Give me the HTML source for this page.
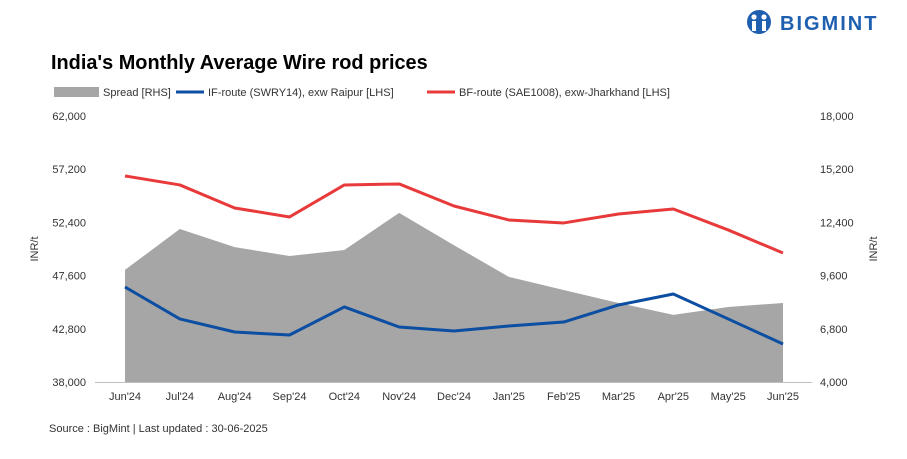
<!DOCTYPE html>
<html><head><meta charset="utf-8"><style>
body{margin:0;width:907px;height:454px;background:#fff;font-family:"Liberation Sans",sans-serif;overflow:hidden}
svg text{font-family:"Liberation Sans",sans-serif}
</style></head><body>
<svg id="c" width="907" height="454">
<g>
<circle cx="759" cy="22" r="12" fill="#1f5fb0"/>
<circle cx="754" cy="17" r="2.6" fill="#fff"/><circle cx="764" cy="17" r="2.6" fill="#fff"/>
<rect x="752" y="21" width="4" height="10" fill="#fff"/><rect x="762" y="21" width="4" height="10" fill="#fff"/>
<text x="780" y="30" font-size="20" font-weight="bold" fill="#1f5fb0" letter-spacing="2">BIGMINT</text>
</g>
<text x="51" y="69" font-size="19.9" font-weight="bold" fill="#000">India's Monthly Average Wire rod prices</text>
<g font-size="11" fill="#333">
<rect x="54" y="87" width="45" height="10" fill="#a6a6a6"/><text x="103" y="96">Spread [RHS]</text>
<line x1="176" y1="92" x2="204" y2="92" stroke="#0b4ea2" stroke-width="3"/><text x="208" y="96">IF-route (SWRY14), exw Raipur [LHS]</text>
<line x1="427" y1="92" x2="455" y2="92" stroke="#e83a3a" stroke-width="3"/><text x="459" y="96">BF-route (SAE1008), exw-Jharkhand [LHS]</text>
</g>
<text x="0" y="0" font-size="11" fill="#333" transform="translate(38,249) rotate(-90)" text-anchor="middle">INR/t</text>
<text x="0" y="0" font-size="11" fill="#333" transform="translate(877,249) rotate(-90)" text-anchor="middle">INR/t</text>
<text x="49" y="432" font-size="11" fill="#333">Source : BigMint | Last updated : 30-06-2025</text>
<g id="plot"></g>
</svg>
<script>
const categories=["Jun'24","Jul'24","Aug'24","Sep'24","Oct'24","Nov'24","Dec'24","Jan'25","Feb'25","Mar'25","Apr'25","May'25","Jun'25"];
const spread=[9900,12050,11100,10630,10950,12900,11200,9530,8840,8160,7530,7950,8160];
const ifRoute=[46570,43690,42510,42240,44770,42960,42600,43050,43410,44950,45940,43690,41430];
const bfRoute=[56590,55780,53700,52890,55780,55870,53880,52620,52350,53160,53610,51720,49640];
const leftTicks=[38000,42800,47600,52400,57200,62000];
const rightTicks=[4000,6800,9600,12400,15200,18000];
const NS="http://www.w3.org/2000/svg";
const g=document.getElementById('plot');
const x0=125,x1=783,yTop=116,yBot=382;
const xs=i=>x0+i*(x1-x0)/(categories.length-1);
const yl=v=>yBot-(v-38000)/(62000-38000)*(yBot-yTop);
const yr=v=>yBot-(v-4000)/(18000-4000)*(yBot-yTop);
function mk(t,a){const e=document.createElementNS(NS,t);for(const k in a)e.setAttribute(k,a[k]);g.appendChild(e);return e;}
let d=`M${x0},${yBot}`;spread.forEach((v,i)=>d+=` L${xs(i)},${yr(v)}`);d+=` L${x1},${yBot} Z`;
const area=mk('path',{d:d,fill:'#a6a6a6'});


const ax=mk('line',{x1:95,x2:812,y1:yBot+0.5,y2:yBot+0.5,stroke:'#bfbfbf'});


leftTicks.forEach(v=>{const t=mk('text',{x:86,y:yl(v)+4,'font-size':11,fill:'#333','text-anchor':'end'});t.textContent=v.toLocaleString('en-US');

});
rightTicks.forEach(v=>{const t=mk('text',{x:820,y:yr(v)+4,'font-size':11,fill:'#333'});t.textContent=v.toLocaleString('en-US');

});
categories.forEach((c,i)=>{const t=mk('text',{x:xs(i),y:400,'font-size':11,fill:'#333','text-anchor':'middle'});t.textContent=c;

});
function line(arr,col,name){const p=mk('polyline',{points:arr.map((v,i)=>xs(i)+','+yl(v)).join(' '),fill:'none',stroke:col,'stroke-width':3,'stroke-linejoin':'round'});

}
line(bfRoute,'#e83a3a','bf-route-line');
line(ifRoute,'#0b4ea2','if-route-line');
</script>
</body></html>
